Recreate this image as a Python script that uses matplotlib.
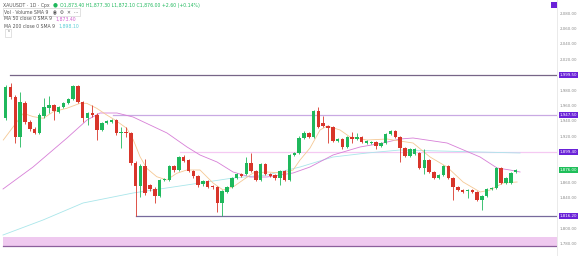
import matplotlib
matplotlib.use("Agg")
import matplotlib.pyplot as plt
from matplotlib.patches import Rectangle
import matplotlib.transforms as mtransforms

# ---------------- data ----------------
opens = [1943.6, 1983.9, 1970.9, 1918.9, 1963.1, 1938.4, 1929.3, 1924.1, 1946.2, 1956.6,
         1960.5, 1951.4, 1957.9, 1963.1, 1968.3, 1985.2, 1964.4, 1943.6, 1950.1, 1947.5,
         1928.0, 1937.1, 1938.4, 1941.0, 1924.1, 1925.4, 1924.1, 1885.1, 1855.2, 1881.2,
         1856.5, 1851.3, 1842.2, 1863.0, 1863.0, 1881.2, 1876.0, 1892.9, 1889.0, 1874.7,
         1868.2, 1857.8, 1861.7, 1855.2, 1853.9, 1833.1, 1847.4, 1853.9, 1865.6, 1870.8,
         1870.8, 1885.1, 1874.7, 1863.0, 1883.8, 1870.8, 1869.5, 1865.6, 1874.7, 1863.0,
         1895.5, 1898.1, 1917.6, 1924.1, 1918.9, 1952.7, 1937.1, 1933.2, 1931.9, 1913.7,
         1916.3, 1905.9, 1918.9, 1916.3, 1918.9, 1911.1, 1911.1, 1912.4, 1907.2, 1911.1,
         1922.8, 1926.7, 1918.9, 1904.6, 1894.2, 1896.8, 1898.1, 1878.6, 1889.0, 1873.4,
         1865.6, 1869.5, 1881.2, 1865.6, 1853.9, 1850.0, 1848.7, 1850.0, 1847.4, 1837.0,
         1842.2, 1851.3, 1852.6, 1878.6, 1859.1, 1859.1, 1873.4]
highs = [1986.5, 1989.1, 1973.5, 1977.4, 1965.7, 1941.0, 1931.9, 1950.1, 1969.6, 1972.2,
         1961.8, 1959.2, 1964.4, 1969.6, 1986.5, 1986.5, 1965.7, 1951.4, 1960.5, 1950.1,
         1938.4, 1941.0, 1942.3, 1942.3, 1931.9, 1931.9, 1925.4, 1887.7, 1883.8, 1890.3,
         1857.8, 1853.9, 1864.3, 1865.6, 1882.5, 1882.5, 1894.2, 1895.5, 1890.3, 1876.0,
         1869.5, 1863.0, 1863.0, 1856.5, 1855.2, 1850.0, 1855.2, 1866.9, 1872.1, 1872.1,
         1892.9, 1898.1, 1876.0, 1885.1, 1885.1, 1872.1, 1870.8, 1876.0, 1876.0, 1896.8,
         1899.4, 1920.2, 1926.7, 1925.4, 1954.0, 1957.9, 1946.2, 1934.5, 1933.2, 1917.6,
         1917.6, 1920.2, 1925.4, 1924.1, 1920.2, 1915.0, 1913.7, 1913.7, 1912.4, 1924.1,
         1928.0, 1928.0, 1920.2, 1905.9, 1904.6, 1904.6, 1899.4, 1903.3, 1890.3, 1874.7,
         1870.8, 1882.5, 1882.5, 1866.9, 1855.2, 1851.3, 1851.3, 1851.3, 1848.7, 1843.5,
         1852.6, 1853.9, 1879.9, 1879.9, 1866.9, 1873.4, 1877.3]
lows = [1941.0, 1968.3, 1911.1, 1905.9, 1935.8, 1926.7, 1922.8, 1922.8, 1943.6, 1950.1,
        1941.0, 1950.1, 1956.6, 1961.8, 1967.0, 1963.1, 1938.4, 1934.5, 1944.9, 1915.0,
        1926.7, 1935.8, 1937.1, 1921.5, 1904.6, 1918.9, 1882.5, 1816.2, 1840.9, 1843.5,
        1848.7, 1833.1, 1840.9, 1861.7, 1861.7, 1873.4, 1874.7, 1886.4, 1873.4, 1865.6,
        1853.9, 1855.2, 1852.6, 1851.3, 1821.4, 1816.2, 1846.1, 1852.6, 1864.3, 1866.9,
        1869.5, 1873.4, 1861.7, 1861.7, 1869.5, 1866.9, 1863.0, 1856.5, 1861.7, 1861.7,
        1894.2, 1896.8, 1916.3, 1917.6, 1917.6, 1930.6, 1931.9, 1911.1, 1912.4, 1912.4,
        1903.3, 1904.6, 1911.1, 1915.0, 1911.1, 1909.8, 1909.8, 1903.3, 1905.9, 1909.8,
        1921.5, 1917.6, 1886.4, 1892.9, 1892.9, 1895.5, 1877.3, 1870.8, 1872.1, 1864.3,
        1864.3, 1868.2, 1864.3, 1837.0, 1848.7, 1846.1, 1839.6, 1846.1, 1835.7, 1824.0,
        1840.9, 1850.0, 1851.3, 1857.8, 1857.8, 1857.8, 1872.1]
closes = [1983.9, 1970.9, 1918.9, 1964.4, 1938.4, 1929.3, 1924.1, 1947.5, 1957.9, 1960.5,
          1952.7, 1957.9, 1963.1, 1968.3, 1985.2, 1964.4, 1943.6, 1950.1, 1947.5, 1928.0,
          1937.1, 1939.7, 1941.0, 1924.1, 1925.4, 1924.1, 1885.1, 1855.2, 1881.2, 1846.1,
          1851.3, 1842.2, 1863.0, 1864.3, 1881.2, 1876.0, 1892.9, 1887.7, 1874.7, 1868.2,
          1856.5, 1861.7, 1853.9, 1853.9, 1833.1, 1848.7, 1853.9, 1865.6, 1870.8, 1868.2,
          1885.1, 1874.7, 1863.0, 1883.8, 1870.8, 1868.2, 1865.6, 1874.7, 1863.0, 1895.5,
          1898.1, 1917.6, 1924.1, 1918.9, 1952.7, 1931.9, 1933.2, 1930.6, 1913.7, 1916.3,
          1905.9, 1918.9, 1916.3, 1918.9, 1912.4, 1913.7, 1912.4, 1907.2, 1911.1, 1922.8,
          1926.7, 1918.9, 1904.6, 1894.2, 1903.3, 1903.3, 1878.6, 1889.0, 1873.4, 1865.6,
          1869.5, 1881.2, 1865.6, 1853.9, 1850.0, 1847.4, 1850.0, 1847.4, 1837.0, 1842.2,
          1851.3, 1852.6, 1878.6, 1859.1, 1865.6, 1872.1, 1876.0]

# moving-average lines (bar index, price)
ma_fast_x = [-0.5, 3.66, 5.74, 7.82, 9.9, 12.68, 15.45, 16.84, 18.92, 21.0, 22.72, 25.16,
             26.53, 27.92, 29.31, 31.39, 33.47, 35.55, 37.63, 40.39, 43.1, 45.18, 47.26,
             49.33, 51.41, 54.32, 57.65, 59.73, 61.18, 63.26, 65.34, 66.8, 69.5, 71.58,
             75.11, 79.27, 80.52, 84.68, 88.21, 91.75, 95.08, 98.61, 100.69, 103.39, 106.3]
ma_fast_y = [1915.0, 1949.7, 1945.3, 1943.2, 1951.8, 1956.2, 1962.7, 1962.7, 1956.2, 1947.5,
             1941.0, 1930.2, 1915.0, 1893.3, 1878.2, 1867.3, 1863.0, 1871.7, 1876.0, 1876.0,
             1859.1, 1850.0, 1853.9, 1863.0, 1872.1, 1873.4, 1872.1, 1876.0, 1889.0, 1904.6,
             1928.0, 1933.2, 1928.0, 1918.9, 1915.0, 1916.3, 1915.0, 1911.1, 1892.9, 1879.9,
             1860.4, 1847.4, 1850.0, 1859.1, 1860.4]
ma50_x = [-0.56, 5.68, 12.74, 16.9, 19.6, 23.14, 26.47, 33.53, 37.69, 40.39, 43.93, 47.26,
          50.79, 54.32, 59.73, 63.26, 68.04, 73.65, 78.44, 81.97, 84.68, 91.75, 98.61,
          102.14, 104.84, 106.92]
ma50_y = [1851.3, 1879.9, 1917.6, 1941.0, 1950.1, 1950.1, 1944.9, 1924.1, 1905.9, 1895.5,
          1886.4, 1873.4, 1866.9, 1866.9, 1872.1, 1879.9, 1895.5, 1905.9, 1911.1, 1916.3,
          1917.6, 1911.1, 1892.9, 1878.6, 1876.0, 1873.4]
ma200_x = [-0.56, 7.75, 16.07, 26.47, 40.39, 47.26, 54.32, 61.18, 68.04, 75.11, 81.97,
           98.61, 106.92]
ma200_y = [1791.5, 1811.0, 1833.1, 1846.1, 1859.1, 1865.6, 1869.5, 1879.9, 1892.9, 1898.1,
           1902.0, 1899.4, 1898.1]

# drawn horizontal levels: (price, start bar)
level_prices = [1999.5, 1947.5, 1899.4, 1816.2]
level_starts = [0.9, 22.3, 36.2, 27.1]
level_colors = ["#776587", "#c9a9e3", "#f5c9f2", "#776a9c"]
band_low, band_high = 1777.2, 1788.9

y_ticks = [1780, 1800, 1840, 1860, 1920, 1940, 1960, 1980, 2020, 2040, 2060, 2080]

title_text = "XAUUSDT · 1D · Cpx"
ohlc_text = "O1,873.40 H1,877.30 L1,872.10 C1,876.00 +2.60 (+0.14%)"
vol_text = "Vol · Volume SMA 9"
ma50_text = "MA 50 close 0 SMA 9"
ma200_text = "MA 200 close 0 SMA 9"

# ---------------- drawing ----------------
W, H = 580, 256
fig = plt.figure(figsize=(W / 100, H / 100), dpi=100)
fig.patch.set_facecolor("white")
ax = fig.add_axes([0, 0, 557 / W, 1])
ax.set_facecolor("white")

X_LEFT, X_RIGHT = -1.19, 114.6
ax.set_xlim(X_LEFT, X_RIGHT)
ax.set_ylim(1764.2, 2097.0)

green, red = "#1fb85c", "#d8352a"

# band + levels
ax.fill_between([-0.6, X_RIGHT], band_low, band_high, color="#efc9ef", lw=0, zorder=1)
ax.plot([-0.6, X_RIGHT], [band_low, band_low], color="#8c5f9c", lw=0.9, zorder=2)
for p, s, c in zip(level_prices, level_starts, level_colors):
    ax.plot([s, X_RIGHT], [p, p], color=c, lw=0.9, zorder=2)

# moving averages
ax.plot(ma200_x, ma200_y, color="#a9e6ea", lw=0.6, zorder=3)
ax.plot(ma50_x, ma50_y, color="#d77fd7", lw=0.6, zorder=3)
ax.plot(ma_fast_x, ma_fast_y, color="#f5c894", lw=0.6, zorder=3)

# candles
for i, (o, h, l, c) in enumerate(zip(opens, highs, lows, closes)):
    col = green if c >= o else red
    ax.vlines(i, l, h, color=col, lw=0.6, zorder=4)
    bottom = min(o, c)
    height = max(abs(c - o), 0.9)
    ax.add_patch(Rectangle((i - 0.36, bottom), 0.72, height, facecolor=col,
                           edgecolor="none", zorder=5))

# axes styling
for side in ["top", "left", "bottom"]:
    ax.spines[side].set_visible(False)
ax.spines["right"].set_color("#e6e6e6")
ax.spines["right"].set_linewidth(0.6)
ax.set_xticks([])
ax.yaxis.tick_right()
ax.set_yticks(y_ticks)
ax.set_yticklabels([f"{v:,.2f}" for v in y_ticks])
ax.tick_params(axis="y", length=0, pad=2.2, labelsize=2.9, labelcolor="#8c8c8c")

# price boxes on the axis
btrans = mtransforms.blended_transform_factory(ax.transAxes, ax.transData)
box_vals = level_prices[:3] + [closes[-1]] + [level_prices[3]]
box_cols = ["#6a22d8", "#6a22d8", "#6a22d8", "#1fbf5a", "#6a22d8"]
for v, c in zip(box_vals, box_cols):
    ax.text(1.005, v, f"{v:,.2f}", transform=btrans, ha="left", va="center",
            fontsize=2.9, color="white", clip_on=False, zorder=10,
            bbox=dict(boxstyle="square,pad=0.3", fc=c, ec="none"))


def fpx(x, y):
    return x / W, 1 - y / H


# top-right icon
fig.patches.append(Rectangle(fpx(551, 8), 6 / W, 6 / H, transform=fig.transFigure,
                             facecolor="#6a22d8", edgecolor="none"))

# header
fs = 3.3
renderer = fig.canvas.get_renderer()


def after(t, gap=2):
    bb = t.get_window_extent(renderer=renderer)
    return bb.x1 + gap


t1 = fig.text(*fpx(3, 5), title_text, fontsize=fs, color="#555555", va="center")
x1 = after(t1, 3)
t2 = fig.text(x1 / W, 1 - 5 / H, "●", fontsize=fs + 0.8, color="#1fb85c", va="center")
x2 = after(t2, 3)
fig.text(x2 / W, 1 - 5 / H, ohlc_text, fontsize=fs, color="#1fb85c", va="center")
fig.text(*fpx(4, 12), vol_text + "   ◉  ⚙  ✕  ···", fontsize=fs, color="#555555",
         va="center", bbox=dict(boxstyle="square,pad=0.3", fc="white", ec="#cccccc", lw=0.4))
t5 = fig.text(*fpx(4, 19), ma50_text, fontsize=fs, color="#555555", va="center")
fig.text(after(t5, 3) / W, 1 - 19 / H, f"{ma50_y[-1]:,.2f}", fontsize=fs,
         color="#d060d0", va="center")
t6 = fig.text(*fpx(4, 26), ma200_text, fontsize=fs, color="#555555", va="center")
fig.text(after(t6, 3) / W, 1 - 26 / H, f"{ma200_y[-1]:,.2f}", fontsize=fs,
         color="#5ccfd6", va="center")
fig.text(*fpx(6, 33), "⌃", fontsize=fs, color="#555555", va="center",
         bbox=dict(boxstyle="square,pad=0.3", fc="white", ec="#cccccc", lw=0.4))

fig.savefig("out.png", dpi=100, facecolor="white")
